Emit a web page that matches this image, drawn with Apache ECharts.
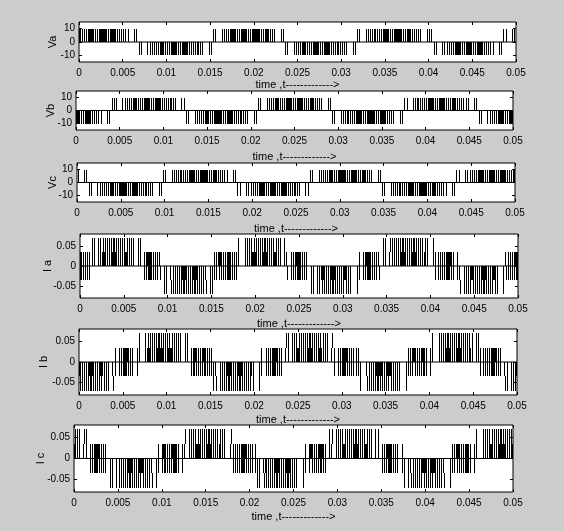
<!DOCTYPE html>
<html>
<head>
<meta charset="utf-8">
<script src="https://cdn.jsdelivr.net/npm/echarts@6.0.0/dist/echarts.min.js"></script>
<style>
  html, body { margin: 0; padding: 0; background: #cccccc; }
  #chart { width: 564px; height: 531px; }
</style>
</head>
<body>
<div id="chart"></div>
<script>
// time axis
const tEnd = 0.05;
const tStep = 0.005;
const timeTicks = ["0", "0.005", "0.01", "0.015", "0.02", "0.025", "0.03", "0.035", "0.04", "0.045", "0.05"];
const voltTicks = [-10, 0, 10];
const currTicks = [-0.05, 0, 0.05];

// pulse shapes: bands [from, to, relative width] filled by one pulse
const pulseBands = {
  "+": [[0, 10, 1]],
  "-": [[-10, 0, 1]],
  P: [[0, 0.035, 1], [0.035, 0.07, 0.7]],
  N: [[-0.035, 0, 1], [-0.07, -0.035, 0.7]],
  Z: [[0, 0.035, 1], [-0.035, 0, 0.85]],
};

// blocks: [start, end, pulse shape]
const vaBlocks = [
  [-0.0015, 0.0068, "+"], [0.0068, 0.0152, "-"], [0.0152, 0.0236, "+"], [0.0236, 0.0318, "-"],
  [0.0318, 0.0404, "+"], [0.0404, 0.0485, "-"], [0.0485, 0.0568, "+"],
];
const vbBlocks = [
  [-0.0042, 0.0041, "-"], [0.0041, 0.0126, "+"], [0.0126, 0.0208, "-"], [0.0208, 0.0292, "+"],
  [0.0292, 0.0375, "-"], [0.0375, 0.046, "+"], [0.046, 0.0543, "-"],
];
const vcBlocks = [
  [-0.007, 0.0013, "+"], [0.0013, 0.0097, "-"], [0.0097, 0.0182, "+"], [0.0182, 0.0265, "-"],
  [0.0265, 0.0348, "+"], [0.0348, 0.0432, "-"], [0.0432, 0.0515, "+"],
];
const iaSteps = [
  [-0.0015, 0.0013, "Z"], [0.0013, 0.0069, "P"], [0.0069, 0.0096, "Z"], [0.0096, 0.0152, "N"],
  [0.0152, 0.018, "Z"], [0.018, 0.0236, "P"], [0.0236, 0.0263, "Z"], [0.0263, 0.0318, "N"],
  [0.0318, 0.0346, "Z"], [0.0346, 0.0405, "P"], [0.0405, 0.0432, "Z"], [0.0432, 0.0485, "N"],
  [0.0485, 0.0513, "Z"],
];
const ibSteps = [
  [-0.0014, 0.0041, "N"], [0.0041, 0.0067, "Z"], [0.0067, 0.0124, "P"], [0.0124, 0.0153, "Z"],
  [0.0153, 0.0208, "N"], [0.0208, 0.0236, "Z"], [0.0236, 0.0291, "P"], [0.0291, 0.032, "Z"],
  [0.032, 0.0375, "N"], [0.0375, 0.0402, "Z"], [0.0402, 0.0457, "P"], [0.0457, 0.0486, "Z"],
  [0.0486, 0.0541, "N"],
];
const icSteps = [
  [-0.0043, 0.0014, "P"], [0.0014, 0.0041, "Z"], [0.0041, 0.0096, "N"], [0.0096, 0.0124, "Z"],
  [0.0124, 0.018, "P"], [0.018, 0.0208, "Z"], [0.0208, 0.0263, "N"], [0.0263, 0.0291, "Z"],
  [0.0291, 0.0347, "P"], [0.0347, 0.0374, "Z"], [0.0374, 0.043, "N"], [0.043, 0.0457, "Z"],
  [0.0457, 0.0513, "P"],
];

// PWM: carrier period and pulse widths across a block (narrow / dropped at the edges)
const carrierPeriod = 0.00025;
const dutyPattern = [0.45, 0, 0.45, 0.55, 0.65, 0.7, 0.75, 0.75, 0.75, 0.75, 0.7, 0.65, 0.55, 0.45, 0, 0.45];

const panels = [
  { name: "Va", data: vaBlocks, lim: 15, ticks: voltTicks, box: [79, 22, 437, 40], yGap: 21, xGap: 17 },
  { name: "Vb", data: vbBlocks, lim: 15, ticks: voltTicks, box: [76, 91, 437, 39], yGap: 20, xGap: 21 },
  { name: "Vc", data: vcBlocks, lim: 15, ticks: voltTicks, box: [77, 163, 438, 39], yGap: 19, xGap: 21 },
  { name: "I a", data: iaSteps, lim: 0.08, ticks: currTicks, box: [80, 234, 438, 64], yGap: 27, xGap: 20 },
  { name: "I b", data: ibSteps, lim: 0.08, ticks: currTicks, box: [79, 329, 438, 66], yGap: 30, xGap: 19 },
  { name: "I c", data: icSteps, lim: 0.08, ticks: currTicks, box: [74, 425, 439, 67], yGap: 28, xGap: 19 },
];

// one item per pulse band: [t0, t1, from, to]
function buildPulses(blocks) {
  const items = [];
  const n = Math.ceil(tEnd / carrierPeriod);
  for (let k = 0; k < n; k++) {
    const tc = (k + 0.5) * carrierPeriod;
    const b = blocks.find((s) => tc >= s[0] && tc < s[1]);
    if (!b) continue;
    const f = (tc - b[0]) / (b[1] - b[0]);
    const d = dutyPattern[Math.min(dutyPattern.length - 1, Math.floor(f * dutyPattern.length))];
    if (d <= 0) continue;
    pulseBands[b[2]].forEach(([lo, hi, rel]) => {
      const w = d * rel * carrierPeriod;
      items.push([tc - w / 2, tc + w / 2, lo, hi]);
    });
  }
  return items;
}

// pulses snapped to whole pixels so they stay black like the printed trace
function renderPulse(params, api) {
  const a = api.coord([api.value(0), api.value(3)]);
  const b = api.coord([api.value(1), api.value(2)]);
  const x = Math.round(a[0]);
  const w = Math.max(1, Math.round(b[0]) - x);
  const y = Math.round(a[1]);
  return {
    type: "rect",
    shape: { x: x, y: y, width: w, height: Math.max(1, Math.round(b[1]) - y) },
    style: { fill: "#000" },
  };
}

const font = "'Liberation Sans', Arial, sans-serif";
const chart = echarts.init(document.getElementById("chart"), null, { renderer: "canvas" });

const grid = [], xAxis = [], yAxis = [], series = [];
panels.forEach((p, i) => {
  grid.push({
    left: p.box[0], top: p.box[1], width: p.box[2], height: p.box[3],
    show: true, backgroundColor: "#fff", borderColor: "#000", borderWidth: 1,
  });
  const xBase = {
    type: "value", gridIndex: i, min: 0, max: tEnd, interval: tStep,
    splitLine: { show: false }, axisLine: { show: false, onZero: false },
    axisTick: { inside: true, length: 3, lineStyle: { color: "#000" } },
  };
  xAxis.push({
    ...xBase, position: "bottom",
    name: "time ,t------------->", nameLocation: "middle", nameGap: p.xGap, nameMoveOverlap: false,
    nameTextStyle: { color: "#000", fontSize: 11, fontFamily: font },
    axisLabel: {
      color: "#000", fontSize: 10, fontFamily: font, margin: 6,
      formatter: (v) => timeTicks[Math.round(v / tStep)],
    },
  });
  xAxis.push({ ...xBase, position: "top", axisLabel: { show: false } });
  const yBase = {
    type: "value", gridIndex: i, min: -p.lim, max: p.lim,
    splitLine: { show: false }, axisLine: { show: false, onZero: false },
    axisTick: { inside: true, length: 3, customValues: p.ticks, lineStyle: { color: "#000" } },
  };
  yAxis.push({
    ...yBase, position: "left",
    name: p.name, nameLocation: "middle", nameGap: p.yGap, nameMoveOverlap: false,
    nameTextStyle: { color: "#000", fontSize: 11, fontFamily: font },
    axisLabel: { color: "#000", fontSize: 10, fontFamily: font, margin: 4, customValues: p.ticks },
  });
  yAxis.push({ ...yBase, position: "right", axisLabel: { show: false } });
  // zero level between pulses
  series.push({
    type: "line", xAxisIndex: 2 * i, yAxisIndex: 2 * i,
    data: [[0, 0], [tEnd, 0]], showSymbol: false, symbol: "none", silent: true,
    lineStyle: { color: "#000", width: 1 },
  });
  series.push({
    type: "custom", xAxisIndex: 2 * i, yAxisIndex: 2 * i,
    data: buildPulses(p.data), renderItem: renderPulse, clip: true, silent: true,
    encode: { x: [0, 1], y: [2, 3] },
  });
});

chart.setOption({ animation: false, backgroundColor: "#cccccc", grid, xAxis, yAxis, series });

window.addEventListener("resize", () => {
  chart.resize();
});
</script>
</body>
</html>
